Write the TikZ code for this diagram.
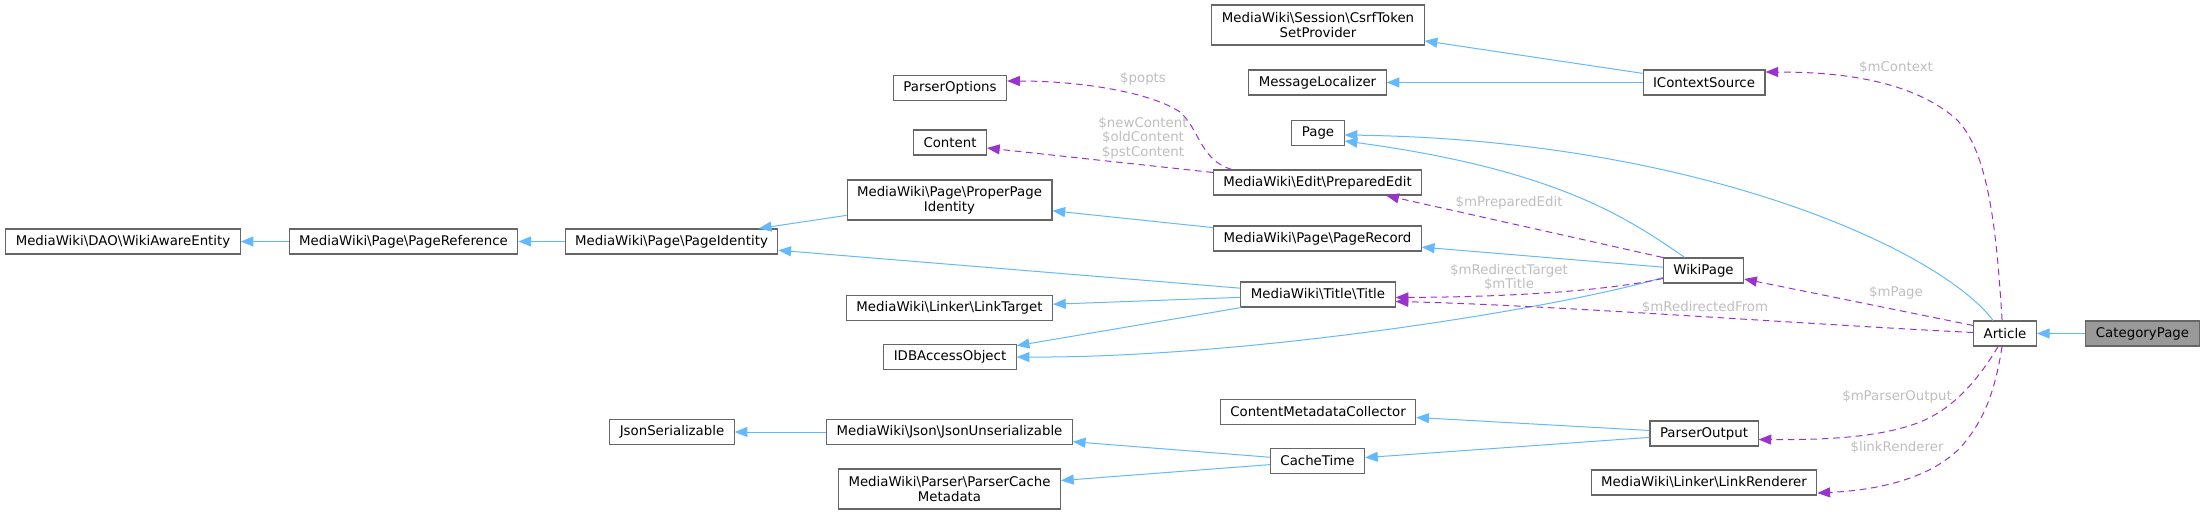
\documentclass[tikz,border=0pt]{standalone}
\usepackage{fontspec}
\setmainfont{DejaVu Sans}
\usepackage{xcolor}
\usepackage{tikz}
\usetikzlibrary{arrows.meta,calc}
\definecolor{inhblue}{HTML}{63B8FF}
\definecolor{usepurple}{HTML}{9A32CD}
\definecolor{lblgray}{HTML}{BEBEBE}
\definecolor{boxgray}{HTML}{666666}
\newcommand{\wbs}{\textbackslash}
\tikzset{
  cls/.style   = {rectangle, draw=boxgray, line width=0.8pt, fill=white, align=center,
                  minimum height=18.75pt, inner xsep=7.5pt, inner ysep=2pt,
                  font=\fontsize{10}{11.25}\selectfont},
  cls2/.style  = {cls, minimum height=30pt},
  cur/.style   = {cls, fill=black!40},
  inh/.style   = {-{Triangle[length=9.5pt,width=7.5pt]}, draw=inhblue, line width=0.75pt},
  usage/.style = {-{Triangle[length=9.5pt,width=7.5pt]}, draw=usepurple, line width=0.75pt,
                  dash pattern=on 5pt off 3.5pt},
  lbl/.style   = {text=lblgray, inner sep=0pt, align=center, font=\fontsize{10}{11}\selectfont},
}

\begin{document}
\begin{tikzpicture}[x=0.75pt, y=-0.75pt]
    \useasboundingbox (0,0) rectangle (2204,515);
    \node[cls]  (wae)     at (123,241.5)    {MediaWiki\wbs{}DAO\wbs{}WikiAwareEntity};
    \node[cls]  (pref)    at (403.5,241.5)  {MediaWiki\wbs{}Page\wbs{}PageReference};
    \node[cls]  (pid)     at (671.5,241.5)  {MediaWiki\wbs{}Page\wbs{}PageIdentity};
    \node[cls2] (ppid)    at (949.5,200)    {MediaWiki\wbs{}Page\wbs{}ProperPage\\Identity};
    \node[cls]  (popts)   at (950,88)       {ParserOptions};
    \node[cls]  (content) at (950,142.5)    {Content};
    \node[cls]  (ltarget) at (949.5,308)    {MediaWiki\wbs{}Linker\wbs{}LinkTarget};
    \node[cls]  (idb)     at (950,357)      {IDBAccessObject};
    \node[cls]  (jser)    at (672,432)      {JsonSerializable};
    \node[cls]  (junser)  at (949.5,432)    {MediaWiki\wbs{}Json\wbs{}JsonUnserializable};
    \node[cls2] (pcmeta)  at (949.5,489)    {MediaWiki\wbs{}Parser\wbs{}ParserCache\\Metadata};
    \node[cls2] (csrf)    at (1318,25)      {MediaWiki\wbs{}Session\wbs{}CsrfToken\\SetProvider};
    \node[cls]  (msgloc)  at (1317.5,82.5)  {MessageLocalizer};
    \node[cls]  (page)    at (1318,133)     {Page};
    \node[cls]  (pedit)   at (1317.5,182.5) {MediaWiki\wbs{}Edit\wbs{}PreparedEdit};
    \node[cls]  (precord) at (1317.5,238.5) {MediaWiki\wbs{}Page\wbs{}PageRecord};
    \node[cls]  (title)   at (1318,294.5)   {MediaWiki\wbs{}Title\wbs{}Title};
    \node[cls]  (cmc)     at (1318,412)     {ContentMetadataCollector};
    \node[cls]  (ctime)   at (1317.5,461)   {CacheTime};
    \node[cls]  (ictx)    at (1704,82.5)    {IContextSource};
    \node[cls]  (wpage)   at (1703.5,270.5) {WikiPage};
    \node[cls]  (pout)    at (1704,433.5)   {ParserOutput};
    \node[cls]  (lrend)   at (1704,482.5)   {MediaWiki\wbs{}Linker\wbs{}LinkRenderer};
    \node[cls]  (article) at (2005,333.5)   {Article};
    \node[cur]  (catpage) at (2142.5,333.5) {CategoryPage};

    \foreach \a/\b in {pref/wae, pid/pref, ppid/pid, title/pid, precord/ppid, title/ltarget,
                       title/idb, wpage/precord, ictx/csrf, ictx/msgloc, junser/jser,
                       ctime/junser, ctime/pcmeta, pout/cmc, pout/ctime, catpage/article}
      \draw[inh] (\a) -- (\b);
    \draw[inh] ($(wpage.west)+(0,7)$) .. controls (1560,308) and (1250,358) .. (idb.east);
    \draw[inh] ($(wpage.north west)+(22,0)$) .. controls (1630,220) and (1560,170) .. ($(page.east)+(0,8)$);
    \draw[inh] ($(article.north west)+(20,0)$) .. controls (1940,250) and (1700,140) .. ($(page.east)+(0,2)$);

    \draw[usage] ($(pedit.north west)+(19,0)$) .. controls (1200,160) and (1200,130) .. (1180,112)
                 .. controls (1150,92) and (1080,81) .. ($(popts.east)+(0,-7)$);
    \draw[usage] ($(pedit.north west)+(0,3)$) -- ($(content.east)+(0,5.5)$);
    \draw[usage] (wpage.north west) -- ($(pedit.south east)+(-36,0)$);
    \draw[usage] ($(wpage.west)+(0,8)$) .. controls (1600,292) and (1500,297) .. ($(title.east)+(0,3)$);
    \draw[usage] ($(article.west)+(0,-1)$) .. controls (1800,324) and (1550,305) .. ($(title.east)+(0,7)$);
    \draw[usage] ($(article.north west)+(0,5)$) -- ($(wpage.east)+(0,8.5)$);
    \draw[usage] ($(article.north west)+(29,0)$) .. controls (1997,240) and (1990,150) .. (1955,118)
                 .. controls (1910,80) and (1840,72) .. ($(ictx.east)+(0,-10.5)$);
    \draw[usage] ($(article.south west)+(25,0)$) .. controls (1975,385) and (1950,410) .. (1920,422)
                 .. controls (1880,438) and (1820,440) .. ($(pout.east)+(0,6)$);
    \draw[usage] ($(article.south west)+(29,0)$) .. controls (1995,390) and (1985,420) .. (1960,448)
                 .. controls (1930,478) and (1880,490) .. ($(lrend.east)+(0,10.5)$);

    \node[lbl] (lpopts)   at (1143,79)    {\$popts};
    \node[lbl] (lcontent) at (1143,138)   {\$newContent\\\$oldContent\\\$pstContent};
    \node[lbl] (lpedit)   at (1509,203)   {\$mPreparedEdit};
    \node[lbl] (ltitle)   at (1509,277.5) {\$mRedirectTarget\\\$mTitle};
    \node[lbl] (lredir)   at (1705,307)   {\$mRedirectedFrom};
    \node[lbl] (lpage)    at (1896,293)   {\$mPage};
    \node[lbl] (lctx)     at (1896,67)    {\$mContext};
    \node[lbl] (lpout)    at (1897,397)   {\$mParserOutput};
    \node[lbl] (lrender)  at (1897,447)   {\$linkRenderer};
  \end{tikzpicture}
\end{document}
